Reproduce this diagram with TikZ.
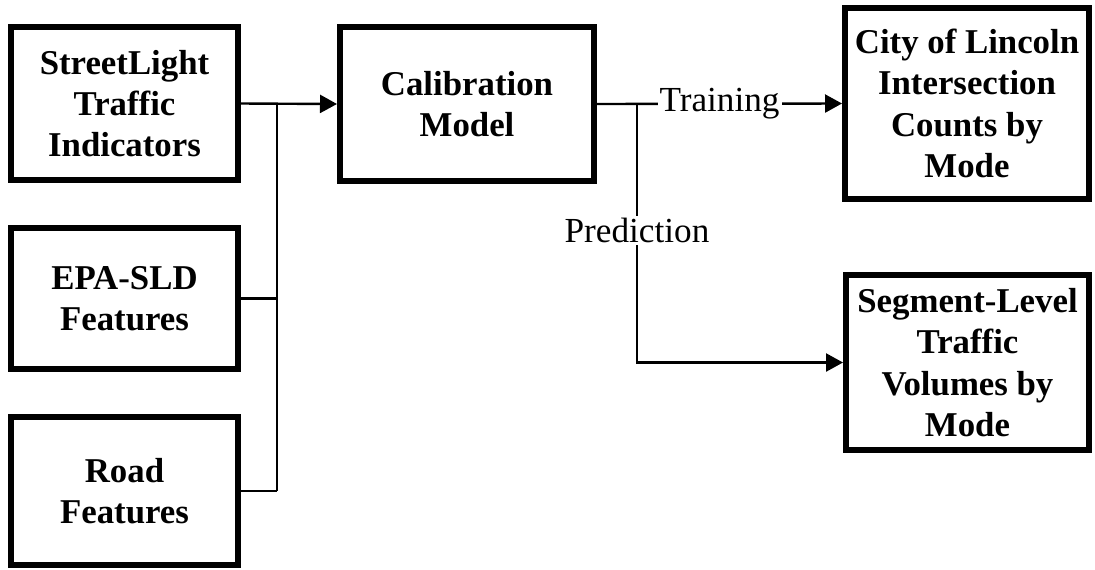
\documentclass[tikz,border=0pt]{standalone}
\usepackage{fontspec}
\setmainfont{Liberation Serif}
\usetikzlibrary{arrows.meta}
\begin{document}
\begin{tikzpicture}[x=0.5pt,y=-0.5pt,
  box/.style={draw=black,line width=3pt,fill=white,align=center,inner sep=2pt,
    font=\bfseries\fontsize{17.4}{20.7}\selectfont},
  conn/.style={line width=1.2pt,draw=black},
  arr/.style={conn,-{Triangle[length=8.5pt,width=9pt]}},
  lbl/.style={fill=white,inner sep=1pt,font=\fontsize{17.6}{20}\selectfont}]
\useasboundingbox (0,0) rectangle (1095,569);
\node[box,minimum width=113.5pt,minimum height=76.5pt] (sl) at (124.5,103.5) {StreetLight\\Traffic\\Indicators};
\node[box,minimum width=113.5pt,minimum height=70.5pt] (epa) at (124.5,298.5) {EPA-SLD\\Features};
\node[box,minimum width=113.5pt,minimum height=74pt] (road) at (124.5,491) {Road\\Features};
\node[box,minimum width=127pt,minimum height=77pt] (cal) at (467,104) {Calibration\\Model};
\node[box,minimum width=122pt,minimum height=95.5pt] (city) at (967,103.5) {City of Lincoln\\Intersection\\Counts by\\Mode};
\node[box,minimum width=121.5pt,minimum height=87.5pt] (seg) at (967.5,362.5) {Segment-Level\\Traffic\\Volumes by\\Mode};
\coordinate (j1) at (277,104);
\coordinate (j1e) at (277,298.5);
\coordinate (j1r) at (277,491);
\coordinate (j2) at (637,104);
\coordinate (j2b) at (637,362.5);
\draw[arr] (sl.east) -- (cal.west);
\draw[conn] (j1) -- (j1r);
\draw[conn] (epa.east) -- (j1e);
\draw[conn] (road.east) -- (j1r);
\draw[arr] (cal.east) -- node[lbl] (tr) {Training} (city.west);
\draw[arr] (j2) -- node[lbl,pos=0.49] (pr) {Prediction} (j2b) -- (seg.west);
\end{tikzpicture}
\end{document}
